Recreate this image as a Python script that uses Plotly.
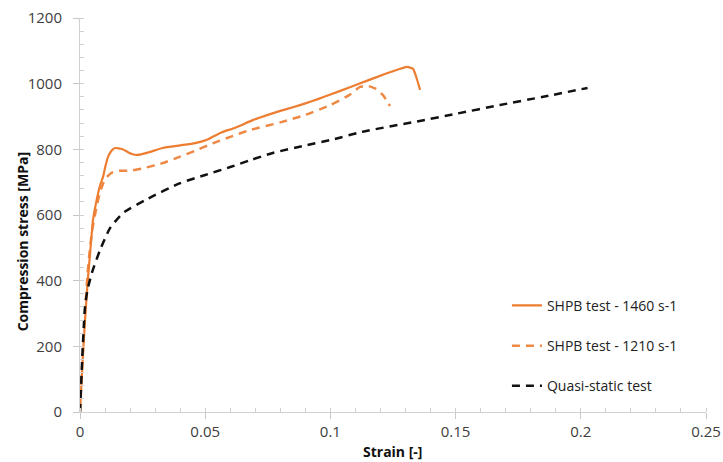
import plotly.graph_objects as go

# SHPB test - 1460 s-1 (solid orange)
strain_1460 = [0, 0.001, 0.002, 0.003, 0.004, 0.0052, 0.0065, 0.008, 0.0092, 0.0102, 0.0112, 0.0125,
               0.014, 0.0168, 0.019, 0.021, 0.023, 0.027, 0.033, 0.040, 0.046, 0.051, 0.056, 0.062,
               0.069, 0.075, 0.080, 0.085, 0.090, 0.095, 0.100, 0.1078, 0.115, 0.122, 0.127, 0.1306,
               0.133, 0.1345, 0.1358]
stress_1460 = [0, 150, 280, 390, 480, 585, 640, 690, 716, 750, 777, 795,
               804, 801, 792, 785, 783, 790, 804, 812, 819, 830, 850, 866,
               889, 905, 917, 928, 940, 953, 967, 989, 1010, 1030, 1043, 1051,
               1045, 1015, 981]

# SHPB test - 1210 s-1 (dashed orange)
strain_1210 = [0, 0.001, 0.002, 0.003, 0.004, 0.005, 0.0065, 0.008, 0.0095, 0.0108, 0.0125, 0.0148,
               0.020, 0.025, 0.033, 0.040, 0.0467, 0.053, 0.060, 0.068, 0.080, 0.090, 0.100,
               0.1075, 0.1118, 0.1146, 0.118, 0.121, 0.1238]
stress_1210 = [0, 160, 300, 420, 500, 560, 620, 670, 700, 716, 728, 734,
               735, 742, 758, 778, 798, 818, 838, 859, 882, 905, 935,
               965, 990, 994, 985, 965, 932]

# Quasi-static test (dashed black)
strain_qs = [0, 0.001, 0.002, 0.003, 0.0048, 0.008, 0.012, 0.0172, 0.0267, 0.040, 0.050, 0.060,
             0.068, 0.077, 0.090, 0.101, 0.1125, 0.1346, 0.150, 0.1677, 0.185, 0.2027]
stress_qs = [0, 180, 320, 372, 425, 493, 560, 606, 648, 697, 722, 746,
             767, 789, 812, 830, 853, 885, 908, 935, 960, 987]

x_title = "Strain [-]"
y_title = "Compression stress [MPa]"

font = "Open Sans, Segoe UI, sans-serif"
orange = "#ED7D31"

fig = go.Figure()
fig.add_trace(go.Scatter(x=strain_1460, y=stress_1460, mode="lines", name="SHPB test - 1460 s-1",
                         line=dict(color=orange, width=2.2, shape="spline", smoothing=0.5),
                         legendgroup="a"))
fig.add_trace(go.Scatter(x=strain_1210, y=stress_1210, mode="lines", name="SHPB test - 1210 s-1",
                         line=dict(color=orange, width=2.5, dash="8px,6px", shape="spline", smoothing=0.5),
                         opacity=0.9, legendgroup="b"))
fig.add_trace(go.Scatter(x=strain_qs, y=stress_qs, mode="lines", name="Quasi-static test",
                         line=dict(color="#111111", width=2.5, dash="8px,6px", shape="spline", smoothing=0.6),
                         legendgroup="c"))

axis_common = dict(
    showline=True, linecolor="#d0d0d0", linewidth=1,
    showgrid=False, zeroline=False, automargin=False,
    ticks="outside", ticklen=6, tickcolor="#c8c8c8",
    tickfont=dict(family=font, size=15, color="#404040"),
)

fig.update_xaxes(range=[0, 0.25], tickvals=[0, 0.05, 0.1, 0.15, 0.2, 0.25],
                 ticktext=["0", "0.05", "0.1", "0.15", "0.2", "0.25"],
                 minor=dict(dtick=0.01, ticks="inside", ticklen=4, tickcolor="#d0d0d0"),
                 **axis_common)
fig.update_yaxes(range=[0, 1200], dtick=200,
                 minor=dict(dtick=40, ticks="inside", ticklen=4, tickcolor="#d0d0d0"),
                 ticklabelstandoff=8,
                 **axis_common)

title_font = dict(family=font, size=14, color="#111111")
fig.add_annotation(text="<b>" + x_title + "</b>", xref="paper", yref="paper",
                   x=0.5, y=-0.1015, xanchor="center", yanchor="middle",
                   showarrow=False, font=title_font)
fig.add_annotation(text="<b>" + y_title + "</b>", xref="paper", yref="paper",
                   x=-0.0927, y=0.433, xanchor="center", yanchor="middle", textangle=-90,
                   showarrow=False, font=title_font)

fig.update_layout(
    width=723, height=462,
    margin=dict(l=80, r=17, t=18, b=50),
    paper_bgcolor="white", plot_bgcolor="white",
    showlegend=True,
    legend=dict(x=0.682, y=0.31, xanchor="left", yanchor="top",
                font=dict(family=font, size=14, color="#222222"),
                bgcolor="rgba(0,0,0,0)", tracegroupgap=19, traceorder="grouped",
                itemwidth=30),
)

fig.write_html("out.html")
